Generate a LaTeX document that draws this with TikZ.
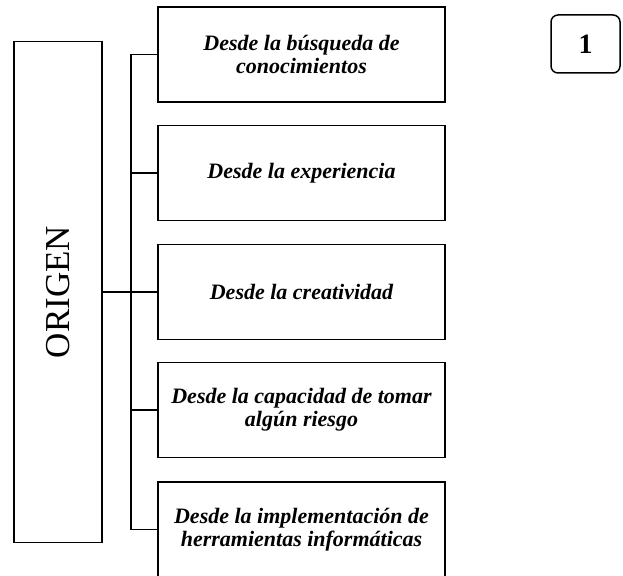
\documentclass[tikz,border=0pt]{standalone}
\usepackage{fontspec}
\setmainfont{Liberation Serif}
\usepackage{tikz}

\begin{document}
\begin{tikzpicture}[x=1pt,y=-1pt]
                \clip (0,0) rectangle (623,575);
                \begin{scope}[every node/.style={draw,line width=1.5pt,inner sep=0pt,align=center,font=\fontsize{22}{23}\selectfont\bfseries\itshape,minimum width=287pt,minimum height=95pt}]
                \node (b1) at (301.5,54.5) {Desde la búsqueda de\\conocimientos};
                \node (b2) at (301.5,173) {Desde la experiencia};
                \node (b3) at (301.5,292) {Desde la creatividad};
                \node (b4) at (301.5,410) {Desde la capacidad de tomar\\algún riesgo};
                \node (b5) at (301.5,529.5) {Desde la implementación de\\herramientas informáticas};
                \end{scope}
                
                \node[draw,line width=1.5pt,minimum width=88pt,minimum height=501pt] (origen) at (58,292) {};
                \node[rotate=90,font=\fontsize{35}{35}\selectfont] (origentxt) at (origen.center) {ORIGEN};
                \node[draw,line width=1.5pt,rounded corners=7pt,minimum width=69pt,minimum height=58pt,font=\fontsize{28}{28}\selectfont\bfseries] (num) at (585.5,44) {1};
                
                \coordinate (bus) at (131,0);
                \path[-,line width=1.5pt,draw]
                (origen.east) -- (b3.west)
                (b1.west) -| (bus |- b5.west) -- (b5.west)
                (b2.west) -- (bus |- b2.west)
                (b4.west) -- (bus |- b4.west);
                \end{tikzpicture}
\end{document}
